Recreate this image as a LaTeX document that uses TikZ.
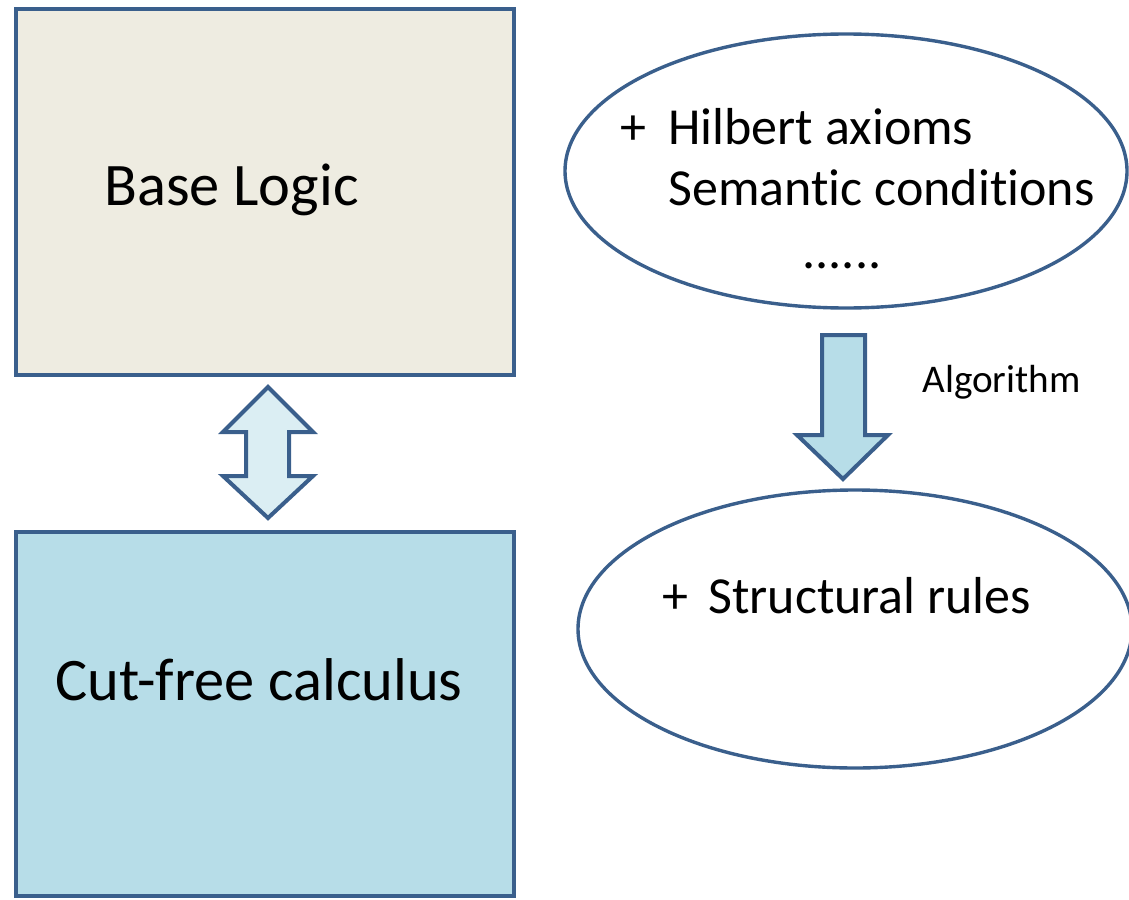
\documentclass[tikz,border=0pt]{standalone}
\usepackage{fontspec}
\setmainfont{Carlito}[Ligatures={NoCommon}]
\usetikzlibrary{shapes.geometric, positioning}

\definecolor{edge}{HTML}{3A5F8C}
\definecolor{sand}{HTML}{EEECE1}
\definecolor{sky}{HTML}{B7DDE8}
\definecolor{pale}{HTML}{DBEEF3}

\begin{document}
\begin{tikzpicture}[x=0.5pt, y=-0.5pt,
	box/.style={draw=edge, line width=2pt},
	oval/.style={ellipse, draw=edge, line width=1.7pt, fill=white, inner sep=0pt},
	big/.style={font=\fontsize{30.2}{34}\selectfont, inner sep=0pt, anchor=base west},
	mid/.style={font=\fontsize{26}{30}\selectfont, inner sep=0pt, anchor=base west},
	small/.style={font=\fontsize{19.6}{22}\selectfont, inner sep=0pt, anchor=base west},
	block/.style={draw=edge, line width=2pt, line join=miter}]

	\useasboundingbox (0,0) rectangle (1129,899);

	% left column
	\draw[box, fill=sand] (16,9) rectangle (514,375);
	\node[big] (base) at (104,205) {Base Logic};

	\draw[box, fill=sky] (16,532) rectangle (514,896);
	\node[big] (cutfree) at (55,700) {Cut-free calculus};

	\def\ax{268}
	\draw[block, fill=pale]
		(\ax,387) -- (\ax+45,432) -- (\ax+21,432) -- (\ax+21,476) -- (\ax+45,476)
		-- (\ax,518) -- (\ax-45,476) -- (\ax-22,476) -- (\ax-22,432) -- (\ax-45,432) -- cycle;

	% right column
	\node[oval, minimum width=281pt, minimum height=137pt] (hilbert) at (846,171) {};
	\node[mid] (plusa) at (620,145) {+};
	\node[mid] (axioms) at (668,145) {Hilbert axioms};
	\node[mid] (semantic) at (668,205) {Semantic conditions};
	\node[mid, anchor=base] (dots) at (842,268) {......};

	\def\bx{843}
	\draw[block, fill=sky]
		(\bx-21,335) -- (\bx+22,335) -- (\bx+22,435) -- (\bx+45,435)
		-- (\bx,479) -- (\bx-46,435) -- (\bx-21,435) -- cycle;
	\node[small] (algo) at (922,392) {Algorithm};

	\node[oval, minimum width=277pt, minimum height=139pt] (structural) at (855,629) {};
	\node[mid] (plusb) at (662,613) {+};
	\node[mid] (rules) at (708,613) {Structural rules};

\end{tikzpicture}
\end{document}
